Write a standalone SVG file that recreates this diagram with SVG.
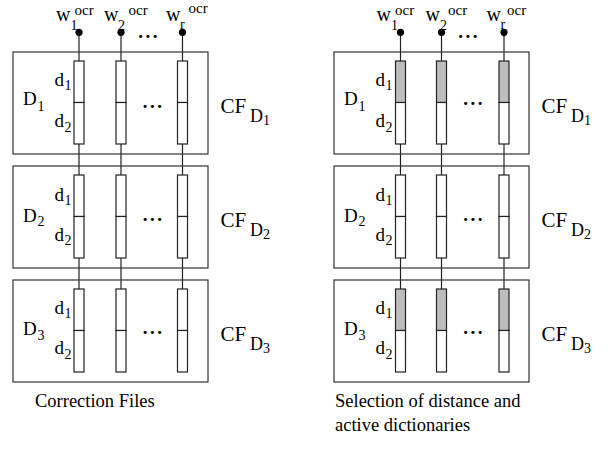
<svg xmlns="http://www.w3.org/2000/svg" width="608" height="468" viewBox="0 0 608 468">
<style>
.box{fill:none;stroke:#333;stroke-width:1.2}
.cell{fill:#fff;stroke:#222;stroke-width:1.2}
.on{fill:#bdbdbd}
.wire{stroke:#222;stroke-width:1.2;fill:none}
.dot{fill:#000}
text{font-family:"Liberation Serif","Times New Roman",serif;fill:#000}
.m{font-size:19px}
.w{font-size:20px}
.s{font-size:14px}
.sup{font-size:15px}
.cf{font-size:21px}
.cfd{font-size:18px}
.el{font-size:19px;font-weight:bold;letter-spacing:2.5px;text-anchor:middle}
.cap{font-size:18.5px}
</style>
<rect width="608" height="468" fill="#fff"/>

<g id="connectors">
  <line class="wire" x1="79" y1="32" x2="79" y2="61"/>
  <line class="wire" x1="121" y1="32" x2="121" y2="61"/>
  <line class="wire" x1="182.5" y1="32" x2="182.5" y2="61"/>
  <line class="wire" x1="79" y1="144" x2="79" y2="175"/>
  <line class="wire" x1="121" y1="144" x2="121" y2="175"/>
  <line class="wire" x1="182.5" y1="144" x2="182.5" y2="175"/>
  <line class="wire" x1="79" y1="258" x2="79" y2="289"/>
  <line class="wire" x1="121" y1="258" x2="121" y2="289"/>
  <line class="wire" x1="182.5" y1="258" x2="182.5" y2="289"/>
  <line class="wire" x1="400.5" y1="32" x2="400.5" y2="61"/>
  <line class="wire" x1="441.5" y1="32" x2="441.5" y2="61"/>
  <line class="wire" x1="504" y1="32" x2="504" y2="61"/>
  <line class="wire" x1="400.5" y1="144" x2="400.5" y2="175"/>
  <line class="wire" x1="441.5" y1="144" x2="441.5" y2="175"/>
  <line class="wire" x1="504" y1="144" x2="504" y2="175"/>
  <line class="wire" x1="400.5" y1="258" x2="400.5" y2="289"/>
  <line class="wire" x1="441.5" y1="258" x2="441.5" y2="289"/>
  <line class="wire" x1="504" y1="258" x2="504" y2="289"/>
</g>

<!-- Left panel inputs -->
<g id="L-inputs">
  <circle class="dot" cx="79" cy="32.3" r="3.6"/>
  <circle class="dot" cx="121" cy="32.3" r="3.6"/>
  <circle class="dot" cx="182.5" cy="32.3" r="3.6"/>
  <text class="w" x="56" y="21">w</text><text class="s" x="70.5" y="30">1</text><text class="sup" x="74.5" y="15">ocr</text>
  <text class="w" x="104" y="21">w</text><text class="s" x="118" y="30">2</text><text class="sup" x="128.5" y="15">ocr</text>
  <text class="w" x="166" y="21">w</text><text class="s" x="180" y="29">r</text><text class="sup" x="188.5" y="13">ocr</text>
  <text class="el" x="149" y="37.5">...</text>
</g>

<g id="L-D1">
  <rect class="box" x="13" y="52" width="195" height="102"/>
  <rect class="cell" x="74" y="61" width="10" height="41.5"/><rect class="cell" x="74" y="102.5" width="10" height="41.5"/>
  <rect class="cell" x="116" y="61" width="10" height="41.5"/><rect class="cell" x="116" y="102.5" width="10" height="41.5"/>
  <rect class="cell" x="177.5" y="61" width="10" height="41.5"/><rect class="cell" x="177.5" y="102.5" width="10" height="41.5"/>
  <text class="m" x="23" y="105">D</text><text class="s" x="37.5" y="110.5">1</text>
  <text class="m" x="54.5" y="86">d</text><text class="s" x="64.5" y="90">1</text>
  <text class="m" x="54.5" y="127">d</text><text class="s" x="64.5" y="131.5">2</text>
  <text class="el" x="153.5" y="107.5">...</text>
  <text class="cf" x="220.5" y="113">CF</text><text class="cfd" x="250" y="121.5">D</text><text class="s" x="263" y="125">1</text>
</g>

<g id="L-D2">
  <rect class="box" x="13" y="166" width="195" height="102"/>
  <rect class="cell" x="74" y="175" width="10" height="41.5"/><rect class="cell" x="74" y="216.5" width="10" height="41.5"/>
  <rect class="cell" x="116" y="175" width="10" height="41.5"/><rect class="cell" x="116" y="216.5" width="10" height="41.5"/>
  <rect class="cell" x="177.5" y="175" width="10" height="41.5"/><rect class="cell" x="177.5" y="216.5" width="10" height="41.5"/>
  <text class="m" x="23" y="222">D</text><text class="s" x="37.5" y="226">2</text>
  <text class="m" x="54.5" y="200.5">d</text><text class="s" x="64.5" y="204.5">1</text>
  <text class="m" x="54.5" y="240.5">d</text><text class="s" x="64.5" y="245">2</text>
  <text class="el" x="153.5" y="221">...</text>
  <text class="cf" x="220.5" y="227">CF</text><text class="cfd" x="250" y="235.5">D</text><text class="s" x="263" y="239">2</text>
</g>

<g id="L-D3">
  <rect class="box" x="13" y="280" width="195" height="102"/>
  <rect class="cell" x="74" y="289" width="10" height="41.5"/><rect class="cell" x="74" y="330.5" width="10" height="41.5"/>
  <rect class="cell" x="116" y="289" width="10" height="41.5"/><rect class="cell" x="116" y="330.5" width="10" height="41.5"/>
  <rect class="cell" x="177.5" y="289" width="10" height="41.5"/><rect class="cell" x="177.5" y="330.5" width="10" height="41.5"/>
  <text class="m" x="23" y="335">D</text><text class="s" x="37.5" y="339.5">3</text>
  <text class="m" x="54.5" y="314">d</text><text class="s" x="64.5" y="318">1</text>
  <text class="m" x="54.5" y="354">d</text><text class="s" x="64.5" y="358.5">2</text>
  <text class="el" x="153.5" y="334">...</text>
  <text class="cf" x="220.5" y="341">CF</text><text class="cfd" x="250" y="349.5">D</text><text class="s" x="263" y="353">3</text>
</g>

<!-- Right panel inputs -->
<g id="R-inputs">
  <circle class="dot" cx="400.5" cy="32.3" r="3.6"/>
  <circle class="dot" cx="441.5" cy="32.3" r="3.6"/>
  <circle class="dot" cx="504" cy="32.3" r="3.6"/>
  <text class="w" x="376.5" y="21">w</text><text class="s" x="391" y="30">1</text><text class="sup" x="395" y="15">ocr</text>
  <text class="w" x="425.5" y="21">w</text><text class="s" x="440" y="30">2</text><text class="sup" x="448" y="15">ocr</text>
  <text class="w" x="486.5" y="21">w</text><text class="s" x="500.5" y="29">r</text><text class="sup" x="507" y="15">ocr</text>
  <text class="el" x="469" y="37.5">...</text>
</g>

<g id="R-D1">
  <rect class="box" x="334" y="52" width="195" height="102"/>
  <rect class="cell on" x="395.5" y="61" width="10" height="41.5"/><rect class="cell" x="395.5" y="102.5" width="10" height="41.5"/>
  <rect class="cell on" x="436.5" y="61" width="10" height="41.5"/><rect class="cell" x="436.5" y="102.5" width="10" height="41.5"/>
  <rect class="cell on" x="499" y="61" width="10" height="41.5"/><rect class="cell" x="499" y="102.5" width="10" height="41.5"/>
  <text class="m" x="344" y="105">D</text><text class="s" x="358.5" y="110.5">1</text>
  <text class="m" x="375.5" y="86">d</text><text class="s" x="385.5" y="90">1</text>
  <text class="m" x="375.5" y="127">d</text><text class="s" x="385.5" y="131.5">2</text>
  <text class="el" x="474" y="105">...</text>
  <text class="cf" x="541.5" y="113">CF</text><text class="cfd" x="571" y="121.5">D</text><text class="s" x="584" y="125">1</text>
</g>

<g id="R-D2">
  <rect class="box" x="334" y="166" width="195" height="102"/>
  <rect class="cell" x="395.5" y="175" width="10" height="41.5"/><rect class="cell" x="395.5" y="216.5" width="10" height="41.5"/>
  <rect class="cell" x="436.5" y="175" width="10" height="41.5"/><rect class="cell" x="436.5" y="216.5" width="10" height="41.5"/>
  <rect class="cell" x="499" y="175" width="10" height="41.5"/><rect class="cell" x="499" y="216.5" width="10" height="41.5"/>
  <text class="m" x="344" y="222">D</text><text class="s" x="358.5" y="226">2</text>
  <text class="m" x="375.5" y="200.5">d</text><text class="s" x="385.5" y="204.5">1</text>
  <text class="m" x="375.5" y="240.5">d</text><text class="s" x="385.5" y="245">2</text>
  <text class="el" x="474" y="221">...</text>
  <text class="cf" x="541.5" y="227">CF</text><text class="cfd" x="571" y="235.5">D</text><text class="s" x="584" y="239">2</text>
</g>

<g id="R-D3">
  <rect class="box" x="334" y="280" width="195" height="102"/>
  <rect class="cell on" x="395.5" y="289" width="10" height="41.5"/><rect class="cell" x="395.5" y="330.5" width="10" height="41.5"/>
  <rect class="cell on" x="436.5" y="289" width="10" height="41.5"/><rect class="cell" x="436.5" y="330.5" width="10" height="41.5"/>
  <rect class="cell on" x="499" y="289" width="10" height="41.5"/><rect class="cell" x="499" y="330.5" width="10" height="41.5"/>
  <text class="m" x="344" y="335">D</text><text class="s" x="358.5" y="339.5">3</text>
  <text class="m" x="375.5" y="314">d</text><text class="s" x="385.5" y="318">1</text>
  <text class="m" x="375.5" y="354">d</text><text class="s" x="385.5" y="358.5">2</text>
  <text class="el" x="474" y="334">...</text>
  <text class="cf" x="541.5" y="341">CF</text><text class="cfd" x="571" y="349.5">D</text><text class="s" x="584" y="353">3</text>
</g>

<g id="captions">
  <text class="cap" x="35" y="407">Correction Files</text>
  <text class="cap" x="335" y="407">Selection of distance and</text>
  <text class="cap" x="335" y="431">active dictionaries</text>
</g>
</svg>
